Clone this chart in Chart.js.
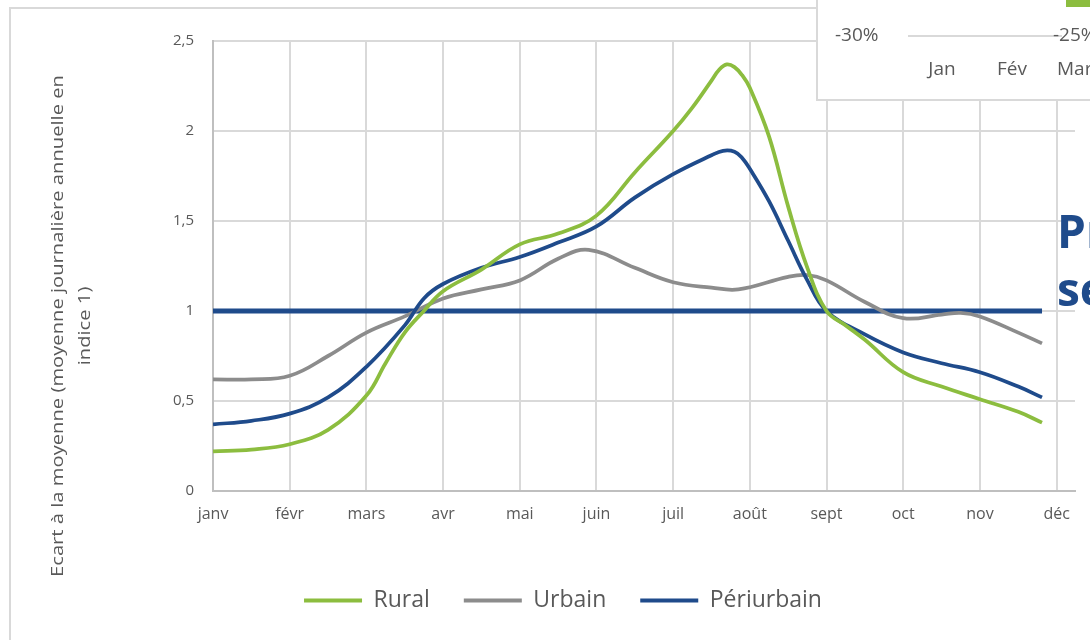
<!DOCTYPE html>
<html><head><meta charset="utf-8">
<script src="https://cdn.jsdelivr.net/npm/chart.js@4.4.1/dist/chart.umd.min.js"></script>
<style>html,body{margin:0;padding:0;background:#fff;}canvas{display:block;}</style>
</head><body>
<canvas id="c" width="1090" height="640"></canvas>
<script>
// ---- data ----
const months = ['janv','févr','mars','avr','mai','juin','juil','août','sept','oct','nov','déc'];
const yTickValues = [0, 0.5, 1, 1.5, 2, 2.5];
const seriesNames = ['Rural', 'Urbain', 'Périurbain'];
const seriesColors = ['#8cbd3f', '#8c8c8c', '#1f4b8b'];

// x = position in months (0 = janv)
const ruralX = [0,0.5,1,1.5,2,2.25,2.5,2.75,3,3.5,4,4.5,5,5.5,6,6.25,6.5,6.6,6.7,6.8,6.9,7,7.25,7.5,7.75,8,8.25,8.5,9,9.5,10,10.5,10.81];
const ruralY = [0.22,0.23,0.26,0.34,0.53,0.71,0.88,1.0,1.11,1.23,1.37,1.43,1.53,1.77,2.0,2.13,2.28,2.34,2.37,2.355,2.31,2.24,1.97,1.58,1.24,1.0,0.92,0.84,0.66,0.58,0.51,0.44,0.38];

const urbainX = [0,0.5,1,1.5,2,2.5,3,3.5,4,4.5,4.9,5.5,6,6.5,6.85,7.5,7.75,8,8.5,9,9.5,9.75,10,10.5,10.81];
const urbainY = [0.62,0.62,0.64,0.75,0.88,0.97,1.07,1.12,1.17,1.29,1.34,1.24,1.16,1.13,1.12,1.19,1.20,1.17,1.05,0.96,0.98,0.99,0.97,0.88,0.82];

const periX = [0,0.5,1,1.5,2,2.5,2.75,3,3.5,4,4.5,5,5.5,6,6.5,6.65,6.8,6.9,7,7.25,7.5,7.75,8,8.5,9,9.5,10,10.5,10.81];
const periY = [0.37,0.39,0.43,0.52,0.69,0.92,1.07,1.15,1.24,1.30,1.38,1.47,1.63,1.76,1.865,1.89,1.885,1.85,1.79,1.61,1.39,1.17,1.0,0.87,0.77,0.71,0.66,0.58,0.52];

const refX = [0, 10.81];
const refY = [1, 1];

const yTitleLines = ['Ecart à la moyenne (moyenne journalière annuelle en', 'indice 1)'];
const overlayLabels = ['-30%', '-25%'];
const overlayMonths = ['Jan', 'Fév', 'Mar'];
const sideTitle = ['Pr', 'se'];

// ---- chart ----
const FONT = "'Open Sans', 'Noto Sans', sans-serif";
const GREY = '#595959';
const toPts = (xs, ys) => xs.map((x, i) => ({x: x, y: ys[i]}));

const deco = {
  id: 'deco',
  beforeDraw(chart) {
    const ctx = chart.ctx;
    ctx.save();
    ctx.fillStyle = '#fff';
    ctx.fillRect(0, 0, chart.width, chart.height);
    ctx.strokeStyle = '#d9d9d9';
    ctx.lineWidth = 2;
    ctx.strokeRect(10, 8, 1300, 900);
    // y-axis title
    ctx.fillStyle = GREY;
    ctx.font = '17px ' + FONT;
    ctx.textAlign = 'center';
    ctx.textBaseline = 'alphabetic';
    const w0 = ctx.measureText(yTitleLines[0]).width;
    const sx = 502 / w0;
    yTitleLines.forEach((t, i) => {
      ctx.save();
      ctx.translate(63 + i * 27, 326);
      ctx.rotate(-Math.PI / 2);
      ctx.scale(sx, 1);
      ctx.fillText(t, 0, 0);
      ctx.restore();
    });
    ctx.restore();
  },
  afterDraw(chart) {
    const ctx = chart.ctx;
    ctx.save();
    // overlapping inset box (top right)
    ctx.fillStyle = '#fff';
    ctx.fillRect(817, -2, 290, 102);
    ctx.strokeStyle = '#d9d9d9';
    ctx.lineWidth = 2;
    ctx.strokeRect(817, -2, 290, 102);
    ctx.fillStyle = seriesColors[0];
    ctx.fillRect(1066, 0, 30, 7);
    ctx.beginPath();
    ctx.moveTo(908, 36); ctx.lineTo(1062, 36);
    ctx.stroke();
    ctx.fillStyle = GREY;
    ctx.font = '19px ' + FONT;
    ctx.textBaseline = 'middle';
    ctx.textAlign = 'left';
    ctx.fillText(overlayLabels[0], 835, 36);
    ctx.fillText(overlayLabels[1], 1053, 36);
    ctx.textAlign = 'center';
    ctx.fillText(overlayMonths[0], 942, 70);
    ctx.fillText(overlayMonths[1], 1012, 70);
    ctx.textAlign = 'left';
    ctx.fillText(overlayMonths[2], 1057, 70);
    // bold side title fragment
    ctx.fillStyle = '#1f4b8b';
    ctx.font = 'bold 46px ' + FONT;
    ctx.textBaseline = 'alphabetic';
    ctx.fillText(sideTitle[0], 1057, 248);
    ctx.fillText(sideTitle[1], 1057, 306);
    ctx.restore();
  }
};

const PAD_BOTTOM = 18;
const lineDs = (label, xs, ys, color, order) => ({
  label: label, data: toPts(xs, ys), borderColor: color, backgroundColor: color,
  borderWidth: 3.75, pointRadius: 0, tension: 0.4, fill: false, order: order
});

new Chart(document.getElementById('c'), {
  type: 'line',
  data: {
    datasets: [
      lineDs(seriesNames[0], ruralX, ruralY, seriesColors[0], 1),
      lineDs(seriesNames[1], urbainX, urbainY, seriesColors[1], 3),
      lineDs(seriesNames[2], periX, periY, seriesColors[2], 2),
      {label: 'indice 1', data: toPts(refX, refY), borderColor: '#1f4b8b', borderWidth: 5,
       pointRadius: 0, tension: 0, fill: false, order: 10}
    ]
  },
  options: {
    responsive: false, animation: false, devicePixelRatio: 1,
    layout: {padding: {left: 51, right: 15, top: 41, bottom: PAD_BOTTOM}},
    plugins: {
      tooltip: {enabled: false},
      legend: {
        position: 'bottom',
        labels: {
          boxWidth: 58, boxHeight: 4, padding: 34, color: GREY,
          font: {family: FONT, size: 23},
          generateLabels: chart => chart.data.datasets.slice(0, 3).map((ds, i) => ({
            text: ds.label, fillStyle: ds.borderColor, strokeStyle: ds.borderColor,
            lineWidth: 0, hidden: false, datasetIndex: i, fontColor: GREY
          }))
        }
      }
    },
    scales: {
      x: {
        type: 'linear', min: 0, max: 11.24,
        afterBuildTicks: s => { s.ticks = months.map((m, i) => ({value: i})); },
        afterFit: s => { s.height = 640 - 491 - PAD_BOTTOM - (s.chart.legend ? s.chart.legend.height : 0); },
        grid: {color: '#d9d9d9', lineWidth: 2, drawTicks: false},
        border: {color: '#bfbfbf', width: 2},
        ticks: {autoSkip: false, maxRotation: 0, padding: 14, color: GREY, font: {family: FONT, size: 16},
                callback: v => months[v] !== undefined ? months[v] : ''}
      },
      y: {
        min: 0, max: 2.5,
        afterBuildTicks: s => { s.ticks = yTickValues.map(v => ({value: v})); },
        afterFit: s => { s.width = 213 - 51; },
        grid: {color: '#d9d9d9', lineWidth: 2, drawTicks: false},
        border: {color: '#bfbfbf', width: 2},
        ticks: {padding: 19, color: GREY, font: {family: FONT, size: 15},
                callback: v => String(v).replace('.', ',')}
      }
    }
  },
  plugins: [deco]
});
</script>
</body></html>
